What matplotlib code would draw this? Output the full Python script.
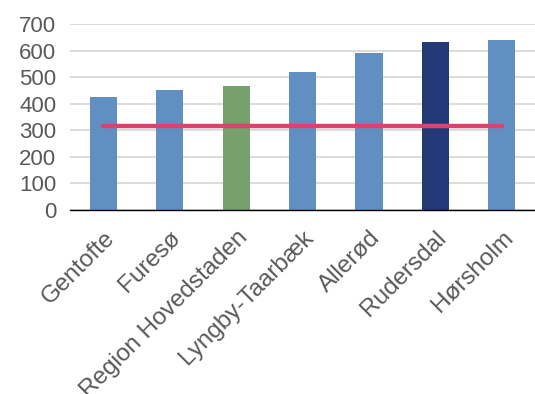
import matplotlib.pyplot as plt
import numpy as np

plt.rcParams['font.family'] = ['Liberation Sans', 'DejaVu Sans']

# Data
categories = ["Gentofte", "Furesø", "Region Hovedstaden", "Lyngby-Taarbæk",
              "Allerød", "Rudersdal", "Hørsholm"]
values = [427, 452, 467, 519, 591, 632, 640]
reference_level = [316, 316, 316, 316, 316, 316, 316]
bar_colors = ["#628FC2", "#628FC2", "#76A06C", "#628FC2",
              "#628FC2", "#233877", "#628FC2"]

fig = plt.figure(figsize=(5.35, 3.94), dpi=100)
ax = fig.add_axes([0.131, 0.467, 0.869, 0.472])

x = np.arange(len(categories))
ax.bar(x, values, width=0.41, color=bar_colors, zorder=2)
ax.plot(x, reference_level, color="#E0406B", linewidth=3.2,
        solid_capstyle="round", zorder=3)

ax.set_xlim(-0.5, len(categories) - 0.5)
ax.set_ylim(0, 700)
ax.set_yticks(range(0, 701, 100))
ax.yaxis.grid(True, color="#D9D9D9", linewidth=1.3, zorder=0)
ax.set_axisbelow(True)

ax.set_xticks(x)
ax.set_xticklabels(categories, rotation=45, ha="right",
                   rotation_mode="anchor", fontsize=17.5)
ax.tick_params(axis="both", length=0, labelcolor="#595959")
ax.tick_params(axis="y", labelsize=16, pad=10)
ax.tick_params(axis="x", pad=12)

for side in ["top", "right", "left"]:
    ax.spines[side].set_visible(False)
ax.spines["bottom"].set_color("black")
ax.spines["bottom"].set_linewidth(1.0)

plt.savefig("out.png", dpi=100)
